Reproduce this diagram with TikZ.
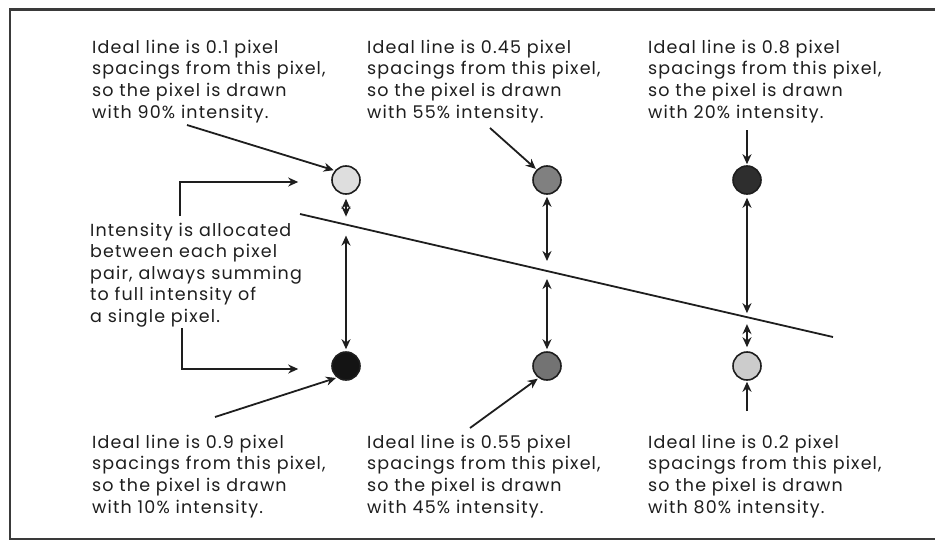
\documentclass[tikz,border=0pt]{standalone}
\usepackage{fontspec}
\setmainfont{Poppins}[LetterSpace=6.5]
\usetikzlibrary{arrows.meta,calc}
\definecolor{ink}{HTML}{1E1E1E}
\definecolor{frameink}{HTML}{3A3A3A}
\tikzset{
  txt/.style={anchor=base west, align=left, inner sep=0pt, text=ink,
    font=\fontsize{17.5}{21.6}\selectfont},
  pix/.style={circle, draw=ink, line width=1.6pt, minimum size=28pt, inner sep=0pt},
  arr/.style={draw=ink, line width=1.8pt, -{Stealth[length=10pt,width=9pt]}},
  dbl/.style={draw=ink, line width=1.8pt, {Stealth[length=10pt,width=9pt]}-{Stealth[length=10pt,width=9pt]}},
  idealline/.style={draw=ink, line width=1.8pt}
}
\begin{document}
\begin{tikzpicture}[x=1pt,y=-1pt]
\useasboundingbox (0,0) rectangle (935,541);
\fill[white] (0,0) rectangle (935,541);
% frame (right edge lies outside the picture)
\draw[frameink, line width=2.6pt] (950,9.5) -- (10,9.5) -- (10,539) -- (950,539);

% pixels
\node[pix, fill=black!13] (p1t) at (346,180) {};
\node[pix, fill=black!50] (p2t) at (547,180) {};
\node[pix, fill=black!82] (p3t) at (747,180) {};
\node[pix, fill=black!92] (p1b) at (346,366) {};
\node[pix, fill=black!55] (p2b) at (547,366) {};
\node[pix, fill=black!20] (p3b) at (747,366) {};

% ideal line
\coordinate (L1) at (300,214);
\coordinate (L2) at (833,337);
\draw[idealline] (L1) -- (L2);
\coordinate (c1) at ($(L1)!0.0863!(L2)$);
\coordinate (c2) at ($(L1)!0.4634!(L2)$);
\coordinate (c3) at ($(L1)!0.8386!(L2)$);

% distance arrows
\draw[dbl, shorten <=4pt, shorten >=8pt] (p1t.south) -- (c1);
\draw[dbl, shorten <=11pt, shorten >=2pt] (c1) -- (p1b.north);
\draw[dbl, shorten <=2pt, shorten >=10pt] (p2t.south) -- (c2);
\draw[dbl, shorten <=8pt, shorten >=2pt] (c2) -- (p2b.north);
\draw[dbl, shorten <=3pt, shorten >=4pt] (p3t.south) -- (c3);
\draw[dbl, shorten <=7pt, shorten >=4pt] (c3) -- (p3b.north);

% text blocks (anchored at the baseline of their last line)
\node[txt] (t1) at (92,118) {Ideal line is 0.1 pixel\\spacings from this pixel,\\so the pixel is drawn\\with 90\% intensity.};
\node[txt] (t2) at (367,118) {Ideal line is 0.45 pixel\\spacings from this pixel,\\so the pixel is drawn\\with 55\% intensity.};
\node[txt] (t3) at (648,118) {Ideal line is 0.8 pixel\\spacings from this pixel,\\so the pixel is drawn\\with 20\% intensity.};
\node[txt] (b1) at (92,513) {Ideal line is 0.9 pixel\\spacings from this pixel,\\so the pixel is drawn\\with 10\% intensity.};
\node[txt] (b2) at (367,513) {Ideal line is 0.55 pixel\\spacings from this pixel,\\so the pixel is drawn\\with 45\% intensity.};
\node[txt] (b3) at (648,513) {Ideal line is 0.2 pixel\\spacings from this pixel,\\so the pixel is drawn\\with 80\% intensity.};
\node[txt] (lt) at (90,322.5) {Intensity is allocated\\between each pixel\\pair, always summing\\to full intensity of\\a single pixel.};

% pointer arrows
\coordinate (s1) at (187,125);
\coordinate (s2) at (490,128);
\coordinate (s3) at (747,130);
\coordinate (s4) at (215,417);
\coordinate (s5) at (470,428);
\coordinate (s6) at (747,411);
\draw[arr, shorten >=1pt] (s1) -- (p1t.140);
\draw[arr, shorten >=1pt] (s2) -- (p2t.135);
\draw[arr, shorten >=1pt] (s3) -- (p3t.north);
\draw[arr, shorten >=1pt] (s4) -- (p1b.232);
\draw[arr, shorten >=1pt] (s5) -- (p2b.235);
\draw[arr, shorten >=1pt] (s6) -- (p3b.south);

% elbow arrows from the left note
\coordinate (e1) at (180,216);
\coordinate (e2) at (182,328);
\draw[arr] (e1) |- ([xshift=-33pt,yshift=-2pt]p1t.west);
\draw[arr] (e2) |- ([xshift=-33pt,yshift=-3pt]p1b.west);
\end{tikzpicture}
\end{document}
